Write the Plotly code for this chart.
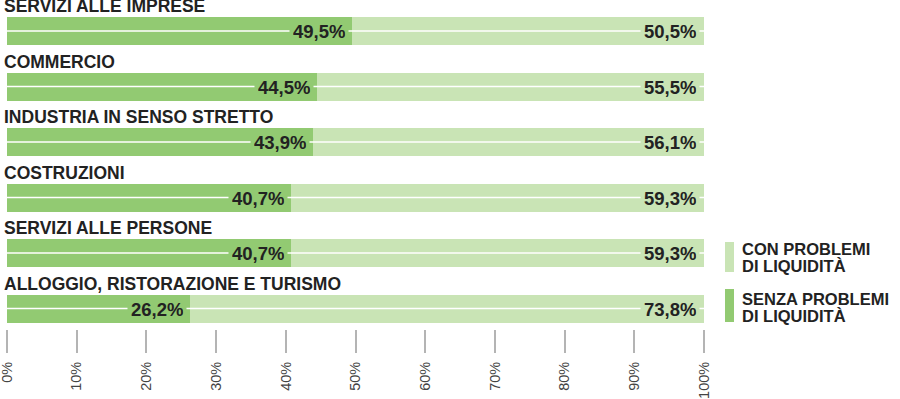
import plotly.graph_objects as go

categories = ["SERVIZI ALLE IMPRESE", "COMMERCIO", "INDUSTRIA IN SENSO STRETTO",
              "COSTRUZIONI", "SERVIZI ALLE PERSONE", "ALLOGGIO, RISTORAZIONE E TURISMO"]
senza_problemi = [49.5, 44.5, 43.9, 40.7, 40.7, 26.2]
con_problemi = [50.5, 55.5, 56.1, 59.3, 59.3, 73.8]
tick_values = [0, 10, 20, 30, 40, 50, 60, 70, 80, 90, 100]
tick_labels = ["0%", "10%", "20%", "30%", "40%", "50%", "60%", "70%", "80%", "90%", "100%"]
legend_con = ["CON PROBLEMI", "DI LIQUIDITÀ"]
legend_senza = ["SENZA PROBLEMI", "DI LIQUIDITÀ"]

DARK = "#92ca72"
LIGHT = "#c9e4b5"
TEXT = "#222222"
FONT = "Liberation Sans, Arial, sans-serif"

W, H = 900, 399
ML, PW = 7, 697
PT, PH = 0, 329
pitch = 55.5
first_center = 31.0


def fmt(v):
    return f"{v:.1f}".replace(".", ",") + "%"


pos = list(range(len(categories)))

fig = go.Figure()
fig.add_trace(go.Bar(y=pos, x=senza_problemi, orientation="h", marker=dict(color=DARK, line=dict(width=0)),
                     width=28 / pitch, name="SENZA PROBLEMI DI LIQUIDITÀ", showlegend=False, hoverinfo="skip"))
fig.add_trace(go.Bar(y=pos, x=con_problemi, orientation="h", marker=dict(color=LIGHT, line=dict(width=0)),
                     width=28 / pitch, name="CON PROBLEMI DI LIQUIDITÀ", showlegend=False, hoverinfo="skip"))

# white middle line across each bar
lx, ly = [], []
for i, (a, b) in enumerate(zip(senza_problemi, con_problemi)):
    lx += [0, a + b, None]
    ly += [i, i, None]
fig.add_trace(go.Scatter(x=lx, y=ly, mode="lines", line=dict(color="white", width=1.7),
                         showlegend=False, hoverinfo="skip"))

annotations = []
for i, (cat, a, b) in enumerate(zip(categories, senza_problemi, con_problemi)):
    annotations.append(dict(x=0, y=i, xref="x", yref="y", text=cat, showarrow=False,
                            xanchor="left", yanchor="bottom", xshift=-5, yshift=13,
                            font=dict(family=FONT, size=17.5, color=TEXT, weight="bold")))
    annotations.append(dict(x=a, y=i, xref="x", yref="y", text=fmt(a), showarrow=False,
                            xanchor="right", yanchor="middle", xshift=-3, height=20, valign="middle",
                            bgcolor=DARK, borderpad=3,
                            font=dict(family=FONT, size=18.5, color=TEXT, weight="bold")))
    annotations.append(dict(x=a + b, y=i, xref="x", yref="y", text=fmt(b), showarrow=False,
                            xanchor="right", yanchor="middle", xshift=-4, height=20, valign="middle",
                            bgcolor=LIGHT, borderpad=3,
                            font=dict(family=FONT, size=18.5, color=TEXT, weight="bold")))


def px_x(p):
    return (p - ML) / PW


def px_y(p):
    return 1 - (p - PT) / PH


shapes = [
    dict(type="rect", xref="paper", yref="paper", x0=px_x(725), x1=px_x(734), y0=px_y(272), y1=px_y(242),
         fillcolor=LIGHT, line=dict(width=0)),
    dict(type="rect", xref="paper", yref="paper", x0=px_x(725), x1=px_x(734), y0=px_y(322), y1=px_y(289),
         fillcolor=DARK, line=dict(width=0)),
]
for lines, tops in ((legend_con, [242.5, 259.5]), (legend_senza, [292.5, 309.5])):
    for txt, top in zip(lines, tops):
        annotations.append(dict(x=px_x(740), y=px_y(top + 6), xref="paper", yref="paper", text=txt,
                                showarrow=False, xanchor="left", yanchor="middle",
                                font=dict(family=FONT, size=16.5, color=TEXT, weight="bold")))

fig.update_layout(
    template="none",
    width=W, height=H,
    margin=dict(l=ML, r=W - ML - PW, t=PT, b=H - PT - PH, pad=0, autoexpand=False),
    paper_bgcolor="white", plot_bgcolor="white",
    barmode="stack", bargap=0,
    annotations=annotations, shapes=shapes,
    xaxis=dict(range=[0, 100], tickvals=tick_values, ticktext=tick_labels, tickangle=-90,
               ticks="outside", ticklen=23, tickwidth=1.5, tickcolor="#b4b4b4", automargin=False,
               showgrid=False, zeroline=False, showline=False, ticklabelstandoff=3,
               ticklabeloverflow="allow",
               tickfont=dict(family=FONT, size=14.5, color="#444444"), fixedrange=True),
    yaxis=dict(range=[(PH - first_center) / pitch, -first_center / pitch], showticklabels=False,
               automargin=False,
               showgrid=False, zeroline=False, showline=False, ticks="", fixedrange=True),
    showlegend=False,
)

fig.write_html("out.html", config={"displayModeBar": False},
               post_script="document.body.style.margin='0';document.body.style.overflow='hidden';")
